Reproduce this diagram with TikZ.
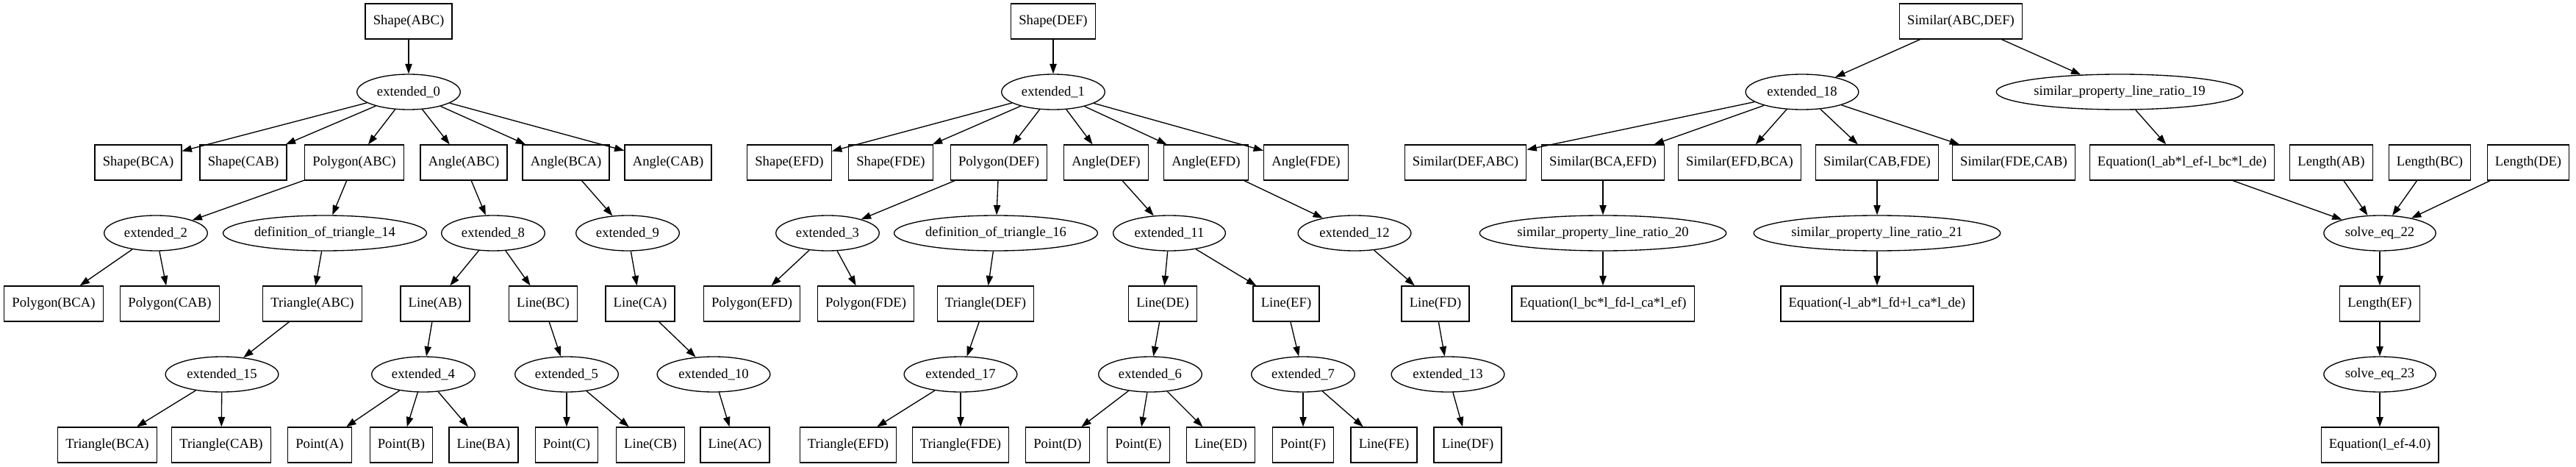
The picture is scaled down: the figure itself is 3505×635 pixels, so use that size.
\documentclass[tikz,border=0pt]{standalone}
\usepackage{fontspec}
\setmainfont{Liberation Serif}
\usetikzlibrary{shapes.geometric,arrows.meta}
\tikzset{x=0.75pt, y=-0.75pt,
    every node/.style={font=\fontsize{14}{16}\selectfont, line width=1pt},
    factbox/.style={draw, rectangle, minimum height=36pt, minimum width=54pt, inner xsep=8pt},
    ruleell/.style={draw, ellipse, minimum height=36pt, inner xsep=5pt},
    longell/.style={ruleell, inner xsep=1.5pt},
    >={Triangle[length=10pt,width=7pt]},
    link/.style={->, line width=1pt},
    }
\begin{document}
\begin{tikzpicture}
\useasboundingbox (0,0) rectangle (3505,635);
% Shape(ABC)
\node[factbox] (shABC) at (556,29) {Shape(ABC)};
\node[ruleell] (ext0) at (556,125) {extended\_0};
\node[factbox] (shBCA) at (188,221) {Shape(BCA)};
\node[factbox] (shCAB) at (331,221) {Shape(CAB)};
\node[factbox] (polyABC) at (482,221) {Polygon(ABC)};
\node[factbox] (angABC) at (631,221) {Angle(ABC)};
\node[factbox] (angBCA) at (770,221) {Angle(BCA)};
\node[factbox] (angCAB) at (909,221) {Angle(CAB)};
\node[ruleell] (ext2) at (212,317) {extended\_2};
\node[longell] (def14) at (442,317) {definition\_of\_triangle\_14};
\node[ruleell] (ext8) at (671,317) {extended\_8};
\node[ruleell] (ext9) at (854,317) {extended\_9};
\node[factbox] (polyBCA) at (73,413) {Polygon(BCA)};
\node[factbox] (polyCAB) at (231,413) {Polygon(CAB)};
\node[factbox] (triABC) at (425,413) {Triangle(ABC)};
\node[factbox] (lineAB) at (592,413) {Line(AB)};
\node[factbox] (lineBC) at (739,413) {Line(BC)};
\node[factbox] (lineCA) at (871,413) {Line(CA)};
\node[ruleell] (ext15) at (302,509) {extended\_15};
\node[ruleell] (ext4) at (576,509) {extended\_4};
\node[ruleell] (ext5) at (771,509) {extended\_5};
\node[ruleell] (ext10) at (971,509) {extended\_10};
\node[factbox] (triBCA) at (146,605) {Triangle(BCA)};
\node[factbox] (triCAB) at (301,605) {Triangle(CAB)};
\node[factbox] (ptA) at (435,605) {Point(A)};
\node[factbox] (ptB) at (546,605) {Point(B)};
\node[factbox] (lineBA) at (658,605) {Line(BA)};
\node[factbox] (ptC) at (771,605) {Point(C)};
\node[factbox] (lineCB) at (885,605) {Line(CB)};
\node[factbox] (lineAC) at (1000,605) {Line(AC)};
\draw[link] (shABC) edge (ext0)
    (ext0) edge (shBCA) edge (shCAB) edge (polyABC) edge (angABC) edge (angBCA) edge (angCAB)
    (polyABC) edge (ext2) edge (def14)
    (ext2) edge (polyBCA) edge (polyCAB)
    (def14) edge (triABC) (triABC) edge (ext15)
    (ext15) edge (triBCA) edge (triCAB)
    (angABC) edge (ext8) (ext8) edge (lineAB) edge (lineBC)
    (lineAB) edge (ext4) (ext4) edge (ptA) edge (ptB) edge (lineBA)
    (lineBC) edge (ext5) (ext5) edge (ptC) edge (lineCB)
    (angBCA) edge (ext9) (ext9) edge (lineCA)
    (lineCA) edge (ext10) (ext10) edge (lineAC);%ABC
% Shape(DEF)
\node[factbox] (shDEF) at (1433,29) {Shape(DEF)};
\node[ruleell] (ext1) at (1433,125) {extended\_1};
\node[factbox] (shEFD) at (1074,221) {Shape(EFD)};
\node[factbox] (shFDE) at (1212,221) {Shape(FDE)};
\node[factbox] (polyDEF) at (1359,221) {Polygon(DEF)};
\node[factbox] (angDEF) at (1505,221) {Angle(DEF)};
\node[factbox] (angEFD) at (1641,221) {Angle(EFD)};
\node[factbox] (angFDE) at (1777,221) {Angle(FDE)};
\node[ruleell] (ext3) at (1126,317) {extended\_3};
\node[longell] (def16) at (1355,317) {definition\_of\_triangle\_16};
\node[ruleell] (ext11) at (1591,317) {extended\_11};
\node[ruleell] (ext12) at (1843,317) {extended\_12};
\node[factbox] (polyEFD) at (1023,413) {Polygon(EFD)};
\node[factbox] (polyFDE) at (1178,413) {Polygon(FDE)};
\node[factbox] (triDEF) at (1341,413) {Triangle(DEF)};
\node[factbox] (lineDE) at (1582,413) {Line(DE)};
\node[factbox] (lineEF) at (1750,413) {Line(EF)};
\node[factbox] (lineFD) at (1953,413) {Line(FD)};
\node[ruleell] (ext17) at (1307,509) {extended\_17};
\node[ruleell] (ext6) at (1565,509) {extended\_6};
\node[ruleell] (ext7) at (1773,509) {extended\_7};
\node[ruleell] (ext13) at (1970,509) {extended\_13};
\node[factbox] (triEFD) at (1154,605) {Triangle(EFD)};
\node[factbox] (triFDE) at (1307,605) {Triangle(FDE)};
\node[factbox] (ptD) at (1439,605) {Point(D)};
\node[factbox] (ptE) at (1549,605) {Point(E)};
\node[factbox] (lineED) at (1661,605) {Line(ED)};
\node[factbox] (ptF) at (1773,605) {Point(F)};
\node[factbox] (lineFE) at (1883,605) {Line(FE)};
\node[factbox] (lineDF) at (1997,605) {Line(DF)};
\draw[link] (shDEF) edge (ext1)
    (ext1) edge (shEFD) edge (shFDE) edge (polyDEF) edge (angDEF) edge (angEFD) edge (angFDE)
    (polyDEF) edge (ext3) edge (def16)
    (ext3) edge (polyEFD) edge (polyFDE)
    (def16) edge (triDEF) (triDEF) edge (ext17)
    (ext17) edge (triEFD) edge (triFDE)
    (angDEF) edge (ext11) (ext11) edge (lineDE) edge (lineEF)
    (lineDE) edge (ext6) (ext6) edge (ptD) edge (ptE) edge (lineED)
    (lineEF) edge (ext7) (ext7) edge (ptF) edge (lineFE)
    (angEFD) edge (ext12) (ext12) edge (lineFD)
    (lineFD) edge (ext13) (ext13) edge (lineDF);%DEF
% Similar(ABC,DEF)
\node[factbox] (simABC) at (2668,29) {Similar(ABC,DEF)};
\node[ruleell] (ext18) at (2452,125) {extended\_18};
\node[longell] (spl19) at (2884,125) {similar\_property\_line\_ratio\_19};
\node[factbox] (simDEF) at (1994,221) {Similar(DEF,ABC)};
\node[factbox] (simBCA) at (2181,221) {Similar(BCA,EFD)};
\node[factbox] (simEFD) at (2367,221) {Similar(EFD,BCA)};
\node[factbox] (simCAB) at (2554,221) {Similar(CAB,FDE)};
\node[factbox] (simFDE) at (2740,221) {Similar(FDE,CAB)};
\node[factbox] (eq19) at (2969,221) {Equation(l\_ab*l\_ef-l\_bc*l\_de)};
\node[factbox] (lenAB) at (3172,221) {Length(AB)};
\node[factbox] (lenBC) at (3306,221) {Length(BC)};
\node[factbox] (lenDE) at (3440,221) {Length(DE)};
\node[longell] (spl20) at (2181,317) {similar\_property\_line\_ratio\_20};
\node[longell] (spl21) at (2554,317) {similar\_property\_line\_ratio\_21};
\node[ruleell] (solve22) at (3238,317) {solve\_eq\_22};
\node[factbox] (eq20) at (2181,413) {Equation(l\_bc*l\_fd-l\_ca*l\_ef)};
\node[factbox] (eq21) at (2554,413) {Equation(-l\_ab*l\_fd+l\_ca*l\_de)};
\node[factbox] (lenEF) at (3238,413) {Length(EF)};
\node[ruleell] (solve23) at (3238,509) {solve\_eq\_23};
\node[factbox] (eqEF) at (3238,605) {Equation(l\_ef-4.0)};
\draw[link] (simABC) edge (ext18) edge (spl19)
    (ext18) edge (simDEF) edge (simBCA) edge (simEFD) edge (simCAB) edge (simFDE)
    (simBCA) edge (spl20) (spl20) edge (eq20)
    (simCAB) edge (spl21) (spl21) edge (eq21)
    (spl19) edge (eq19)
    (eq19) edge (solve22) (lenAB) edge (solve22) (lenBC) edge (solve22) (lenDE) edge (solve22)
    (solve22) edge (lenEF) (lenEF) edge (solve23) (solve23) edge (eqEF);%Similar
\end{tikzpicture}
\end{document}
